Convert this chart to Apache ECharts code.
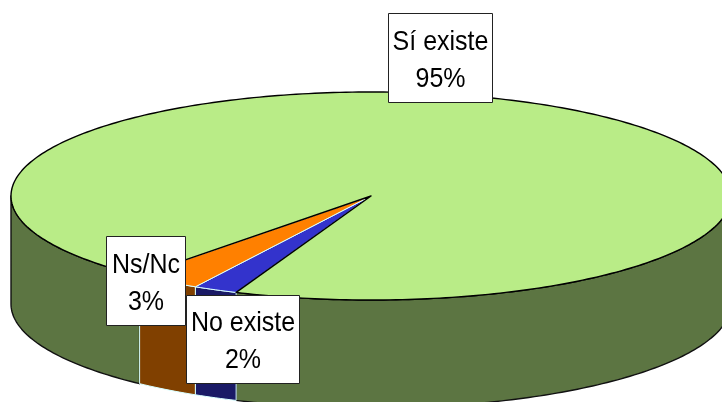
<!DOCTYPE html>
<html>
<head>
<meta charset="utf-8">
<style>
  html, body { margin: 0; padding: 0; background: #fff; }
  #chart { width: 722px; height: 402px; }
</style>
<script src="https://cdn.jsdelivr.net/npm/echarts@6/dist/echarts.min.js"></script>
</head>
<body>
<div id="chart"></div>
<script>
  const categories = ['Sí existe', 'No existe', 'Ns/Nc'];
  const seriesValues = [95, 2, 3];

  const topColors = ['#b9ec87', '#3333cc', '#ff8000'];
  const wallColors = ['#5c7542', '#1a1a66', '#804000'];
  const labelBoxes = [[388, 13, 104, 89], [186, 295, 113, 88], [106, 236, 79, 89]];

  // the pie is an ellipse seen from above
  const cx = 371, cy = 196, rx = 360, ry = 104, depth = 108;
  const startAngle = 130;
  const total = seriesValues.reduce((a, b) => a + b, 0);

  function sliceRange(i) {
    let from = startAngle;
    for (let k = 0; k < i; k++) from += seriesValues[k] / total * 360;
    return [from, from + seriesValues[i] / total * 360];
  }

  function rim(deg, drop) {
    const t = deg * Math.PI / 180;
    return [cx + rx * Math.cos(t), cy + ry * Math.sin(t) + (drop || 0)];
  }

  function arcPoints(from, to, drop) {
    const pts = [];
    const n = Math.max(2, Math.ceil(Math.abs(to - from)));
    for (let k = 0; k <= n; k++) pts.push(rim(from + (to - from) * k / n, drop));
    return pts;
  }

  // only the front half of the rim shows a wall
  function wallParts(from, to) {
    const parts = [];
    [[0, 180], [360, 540]].forEach(([a, b]) => {
      const s = Math.max(from, a), e = Math.min(to, b);
      if (e > s) parts.push([s, e]);
    });
    return parts;
  }

  function renderWall(params, api) {
    const i = api.value(0);
    const r = sliceRange(i);
    return {
      type: 'group',
      children: wallParts(r[0], r[1]).map(([s, e]) => ({
        type: 'polygon',
        z2: i === 0 ? 1 : 2,
        shape: { points: arcPoints(s, e, 0).concat(arcPoints(e, s, depth)) },
        style: { fill: wallColors[i], stroke: i === 0 ? '#111' : '#d8ffff', lineWidth: i === 0 ? 1.4 : 1, lineJoin: 'round' }
      }))
    };
  }

  function renderTop(params, api) {
    const i = api.value(0);
    const r = sliceRange(i);
    return {
      type: 'polygon',
      z2: i === 0 ? 4 : 3,
      shape: { points: [[cx, cy]].concat(arcPoints(r[0], r[1], 0)) },
      style: { fill: topColors[i], stroke: i === 0 ? '#000' : '#d8ffff', lineWidth: i === 0 ? 1.4 : 1, lineJoin: 'round' }
    };
  }

  function renderLabel(params, api) {
    const i = api.value(0);
    const b = labelBoxes[i];
    return {
      type: 'group',
      z2: 10,
      children: [{
        type: 'rect',
        z2: 10,
        shape: { x: b[0] + 0.5, y: b[1] + 0.5, width: b[2], height: b[3] },
        style: { fill: '#fff', stroke: '#222', lineWidth: 1 }
      }, {
        type: 'text',
        z2: 11,
        x: b[0] + b[2] / 2 + 0.5,
        y: b[1] + b[3] / 2 + 3,
        scaleY: 1.12, // glyphs in the original are taller than the font's own shape
        style: {
          text: categories[i] + '\n' + seriesValues[i] + '%',
          fill: '#000',
          font: '25px "Liberation Sans"',
          lineHeight: 33,
          align: 'center',
          verticalAlign: 'middle'
        }
      }]
    };
  }

  const sliceIndex = categories.map((c, i) => [i]);
  const chart = echarts.init(document.getElementById('chart'));
  chart.setOption({
    animation: false,
    series: [
      { type: 'custom', coordinateSystem: 'none', renderItem: renderWall, data: sliceIndex, silent: true, z: 1 },
      { type: 'custom', coordinateSystem: 'none', renderItem: renderTop, data: sliceIndex, silent: true, z: 2 },
      { type: 'custom', coordinateSystem: 'none', renderItem: renderLabel, data: sliceIndex, silent: true, z: 3 }
    ]
  });
</script>
</body>
</html>
